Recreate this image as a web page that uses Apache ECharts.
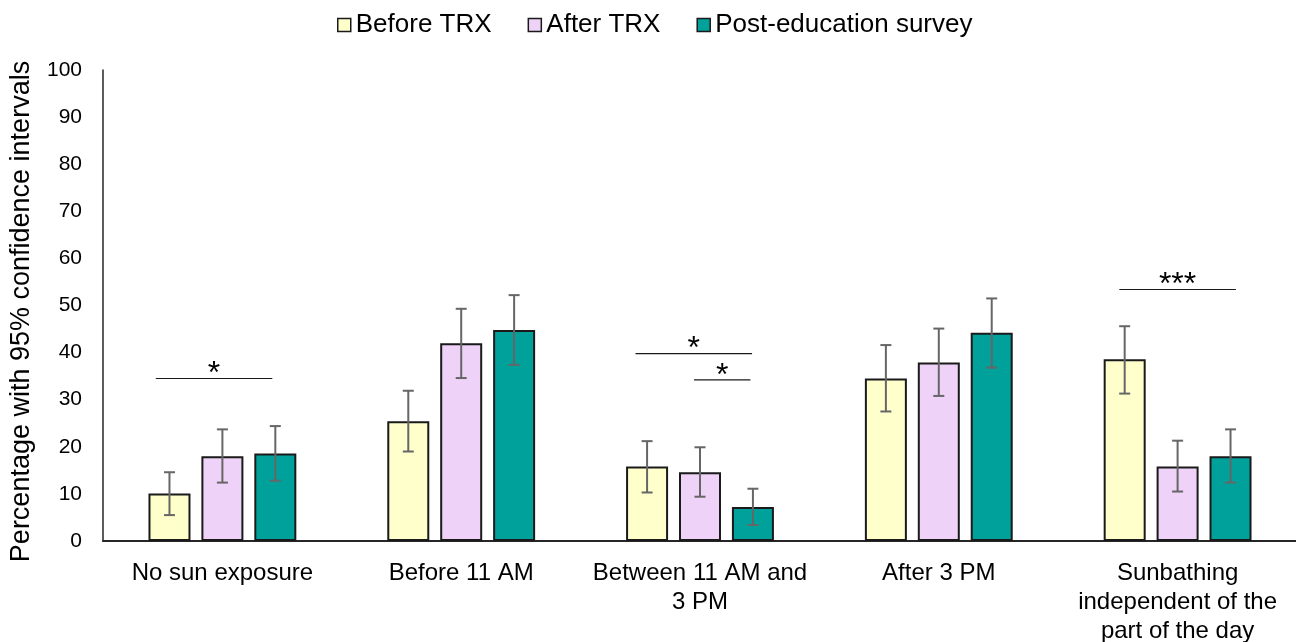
<!DOCTYPE html>
<html>
<head>
<meta charset="utf-8">
<script src="https://cdn.jsdelivr.net/npm/echarts@6/dist/echarts.min.js"></script>
<style>
html,body{margin:0;padding:0;background:#fff;}
#chart{width:1296px;height:642px;}
</style>
</head>
<body>
<div id="chart"></div>
<script>
// ---- data ----
const categories = ['No sun exposure', 'Before 11 AM', 'Between 11 AM and\n3 PM', 'After 3 PM', 'Sunbathing\nindependent of the\npart of the day'];
const seriesNames = ['Before TRX', 'After TRX', 'Post-education survey'];
const before = [10.1, 25.4, 15.8, 34.5, 38.6];
const beforeLow = [5.5, 19.0, 10.3, 27.5, 31.3];
const beforeHigh = [14.6, 31.9, 21.2, 41.6, 45.6];
const after = [18.0, 42.0, 14.6, 37.9, 15.8];
const afterLow = [12.4, 34.6, 9.4, 30.8, 10.5];
const afterHigh = [23.7, 49.3, 19.9, 45.1, 21.3];
const post = [18.6, 44.8, 7.2, 44.2, 18.0];
const postLow = [12.8, 37.4, 3.4, 36.8, 12.4];
const postHigh = [24.4, 52.2, 11.1, 51.5, 23.7];
// significance brackets, x in category units (category i spans i..i+1)
const sigStart = [0.221, 2.230, 2.475, 4.256];
const sigEnd = [0.709, 2.718, 2.711, 4.744];
const sigLevel = [34.5, 39.8, 34.2, 53.4];
const sigLabel = ['*', '*', '*', '***'];
const yTicks = [0, 10, 20, 30, 40, 50, 60, 70, 80, 90, 100];

// ---- styles ----
const FONT = "'Liberation Sans', Arial, sans-serif";
const colors = ['#FFFFCC', '#EED2F7', '#00A19B'];
const BAR_W = 42;
const BAR_GAP = 0.26;
const values = [before, after, post];
const lows = [beforeLow, afterLow, postLow];
const highs = [beforeHigh, afterHigh, postHigh];

const chart = echarts.init(document.getElementById('chart'), null, {renderer: 'canvas'});

const series = [];
seriesNames.forEach((name, i) => {
  series.push({
    name: name,
    type: 'bar',
    data: values[i],
    barWidth: BAR_W,
    barGap: (BAR_GAP * 100) + '%',
    itemStyle: {color: colors[i], borderColor: '#1a1a1a', borderWidth: 2},
    emphasis: {disabled: true},
    z: 2
  });
});
seriesNames.forEach((name, i) => {
  const offset = (i - 1) * BAR_W * (1 + BAR_GAP);
  series.push({
    type: 'custom',
    silent: true,
    z: 5,
    data: categories.map((c, k) => [k, lows[i][k], highs[i][k]]),
    renderItem: function (params, api) {
      const lo = api.coord([api.value(0), api.value(1)]);
      const hi = api.coord([api.value(0), api.value(2)]);
      const x = lo[0] + offset;
      const cap = 5.5;
      const st = {stroke: '#666666', lineWidth: 2};
      return {
        type: 'group',
        children: [
          {type: 'line', shape: {x1: x, y1: lo[1], x2: x, y2: hi[1]}, style: st},
          {type: 'line', shape: {x1: x - cap, y1: lo[1], x2: x + cap, y2: lo[1]}, style: st},
          {type: 'line', shape: {x1: x - cap, y1: hi[1], x2: x + cap, y2: hi[1]}, style: st}
        ]
      };
    }
  });
});
series.push({
  type: 'custom',
  silent: true,
  xAxisIndex: 1,
  z: 6,
  data: sigStart.map((s, k) => [s, sigEnd[k], sigLevel[k]]),
  renderItem: function (params, api) {
    const a = api.coord([api.value(0), api.value(2)]);
    const b = api.coord([api.value(1), api.value(2)]);
    return {
      type: 'group',
      children: [
        {type: 'line', shape: {x1: a[0], y1: a[1], x2: b[0], y2: b[1]}, style: {stroke: '#1a1a1a', lineWidth: 1.2}},
        {type: 'text', x: (a[0] + b[0]) / 2, y: a[1] - 4,
          style: {text: sigLabel[params.dataIndex], font: '32px ' + FONT, fill: '#000', align: 'center', verticalAlign: 'middle'}}
      ]
    };
  }
});

chart.setOption({
  animation: false,
  backgroundColor: '#fff',
  textStyle: {fontFamily: FONT},
  legend: {
    top: 7,
    left: 332,
    data: seriesNames,
    icon: 'rect',
    itemWidth: 13,
    itemHeight: 13,
    itemGap: 36,
    itemStyle: {borderWidth: 1.5},
    textStyle: {fontSize: 26, color: '#000', fontFamily: FONT},
    selectedMode: false
  },
  grid: {left: 103, top: 70, width: 1194, bottom: 101, containLabel: false, outerBoundsMode: 'none'},
  xAxis: [{
    type: 'category',
    data: categories,
    axisLine: {lineStyle: {color: '#262626', width: 2}},
    axisTick: {show: false},
    axisLabel: {fontSize: 24, color: '#000', margin: 18, lineHeight: 29, interval: 0, fontFamily: FONT}
  }, {
    type: 'value',
    min: 0,
    max: categories.length,
    show: false
  }],
  yAxis: {
    type: 'value',
    min: yTicks[0],
    max: yTicks[yTicks.length - 1],
    interval: yTicks[1] - yTicks[0],
    name: 'Percentage with 95% confidence intervals',
    nameLocation: 'middle',
    nameGap: 68,
    nameTextStyle: {fontSize: 27, color: '#000', fontFamily: FONT, padding: [0, 12, 0, 0]},
    axisLine: {show: true, lineStyle: {color: '#262626', width: 1.5}},
    axisTick: {show: false},
    splitLine: {show: false},
    axisLabel: {fontSize: 21, color: '#000', margin: 21, fontFamily: FONT}
  },
  series: series
});
</script>
</body>
</html>
